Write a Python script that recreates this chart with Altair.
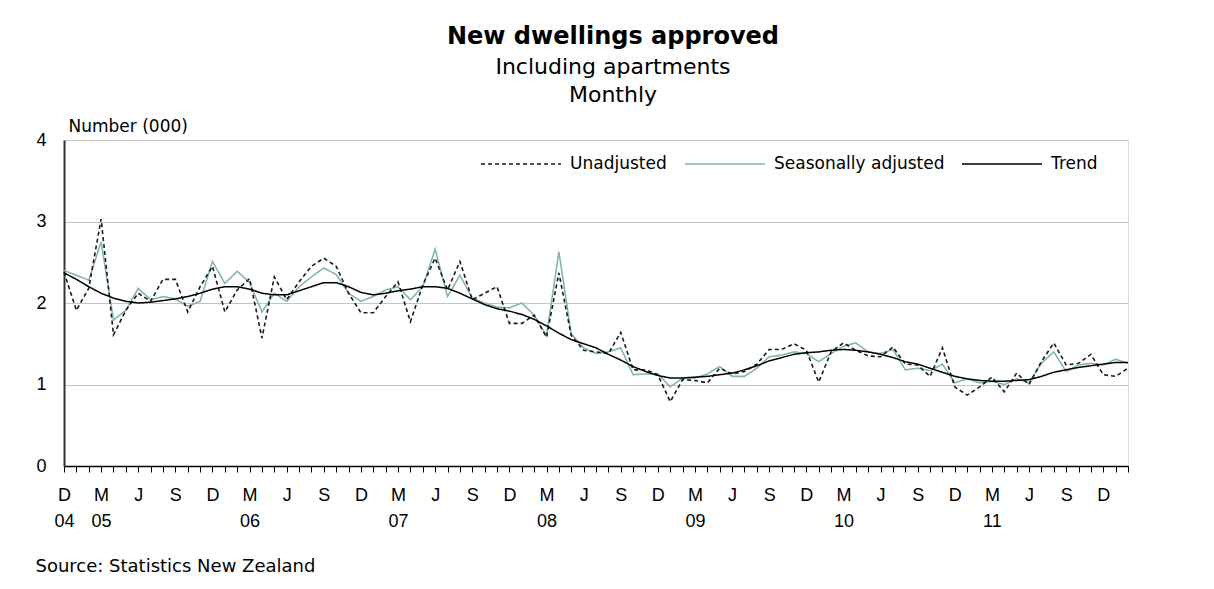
import altair as alt
import pandas as pd

# Monthly, Dec 2004 .. Feb 2012 (87 months), thousands of dwellings
unadjusted = [2.38, 1.91, 2.18, 3.03, 1.61, 1.91, 2.12, 2.02, 2.29, 2.29, 1.89, 2.20,
              2.45, 1.89, 2.16, 2.30, 1.57, 2.32, 2.04, 2.26, 2.45, 2.55, 2.45, 2.12,
              1.88, 1.88, 2.08, 2.26, 1.77, 2.22, 2.55, 2.16, 2.51, 2.04, 2.12, 2.20,
              1.75, 1.75, 1.85, 1.58, 2.37, 1.60, 1.42, 1.40, 1.38, 1.64, 1.18, 1.18,
              1.12, 0.79, 1.06, 1.05, 1.02, 1.20, 1.13, 1.16, 1.25, 1.43, 1.43, 1.50,
              1.42, 1.03, 1.40, 1.51, 1.42, 1.35, 1.34, 1.46, 1.25, 1.24, 1.10, 1.45,
              0.97, 0.87, 0.97, 1.09, 0.91, 1.14, 1.00, 1.28, 1.51, 1.24, 1.26, 1.37,
              1.12, 1.10, 1.20]
seasonally_adjusted = [2.40, 2.34, 2.28, 2.75, 1.79, 1.91, 2.18, 2.04, 2.08, 2.05, 1.96, 2.02,
                       2.51, 2.24, 2.39, 2.25, 1.89, 2.12, 2.02, 2.20, 2.32, 2.43, 2.35, 2.12,
                       2.02, 2.08, 2.16, 2.20, 2.04, 2.20, 2.66, 2.08, 2.34, 2.06, 2.00, 1.95,
                       1.94, 2.00, 1.85, 1.60, 2.63, 1.62, 1.45, 1.38, 1.40, 1.45, 1.12, 1.13,
                       1.13, 0.97, 1.08, 1.08, 1.13, 1.22, 1.10, 1.10, 1.20, 1.34, 1.36, 1.40,
                       1.38, 1.28, 1.38, 1.47, 1.51, 1.40, 1.38, 1.43, 1.18, 1.20, 1.17, 1.25,
                       1.02, 1.07, 1.02, 1.04, 1.00, 1.07, 1.02, 1.26, 1.40, 1.16, 1.24, 1.26,
                       1.24, 1.31, 1.26]
trend = [2.37, 2.29, 2.20, 2.12, 2.06, 2.02, 2.00, 2.01, 2.03, 2.05, 2.08, 2.12,
         2.17, 2.20, 2.20, 2.17, 2.12, 2.10, 2.10, 2.15, 2.20, 2.25, 2.25, 2.20,
         2.13, 2.10, 2.12, 2.15, 2.17, 2.20, 2.20, 2.18, 2.12, 2.05, 1.98, 1.93,
         1.90, 1.86, 1.80, 1.72, 1.63, 1.55, 1.50, 1.45, 1.37, 1.30, 1.22, 1.16,
         1.11, 1.08, 1.08, 1.09, 1.10, 1.12, 1.14, 1.18, 1.23, 1.29, 1.33, 1.37,
         1.39, 1.40, 1.42, 1.43, 1.42, 1.40, 1.37, 1.33, 1.28, 1.25, 1.20, 1.15,
         1.10, 1.07, 1.05, 1.04, 1.04, 1.05, 1.06, 1.10, 1.15, 1.18, 1.21, 1.23,
         1.25, 1.27, 1.27]

month_letters = ["D", "J", "F", "M", "A", "M", "J", "J", "A", "S", "O", "N"]
year_labels = {0: "04", 3: "05", 15: "06", 27: "07", 39: "08", 51: "09", 63: "10", 75: "11"}
series_names = ["Unadjusted", "Seasonally adjusted", "Trend"]

n = len(trend)
rows = []
for name, vals in [("Seasonally adjusted", seasonally_adjusted),
                   ("Unadjusted", unadjusted), ("Trend", trend)]:
    for i, v in enumerate(vals):
        rows.append({"m": i, "value": v, "series": name})
df = pd.DataFrame(rows)

items = []
for i in range(n):
    if i % 3 == 0:
        letter = month_letters[i % 12]
        if i in year_labels:
            items.append(f"['{letter}','{year_labels[i]}']")
        else:
            items.append(f"'{letter}'")
    else:
        items.append("''")
label_expr = "[" + ",".join(items) + "][datum.value]"

FONT = "DejaVu Sans"

legend = alt.Legend(orient="none", legendX=416, legendY=-17,
                    direction="horizontal", title=None,
                    symbolType="stroke", symbolSize=6400,
                    symbolStrokeWidth=1.5, labelFont=FONT,
                    labelFontSize=17, labelColor="#000", labelLimit=400,
                    labelOffset=8, columnPadding=14)

chart = alt.Chart(df).mark_line().encode(
    x=alt.X("m:Q",
            scale=alt.Scale(domain=[0, n - 1], nice=False, zero=False),
            axis=alt.Axis(values=list(range(n)), labelExpr=label_expr, labelOverlap=False,
                          labelBound=False, labelFlush=False, grid=False,
                          tickSize=6, tickColor="#000", domainColor="#000", domainWidth=1.5,
                          labelFont="Liberation Sans", labelFontSize=18, labelColor="#000",
                          labelBaseline="top", labelPadding=14, labelLineHeight=26,
                          title="Source: Statistics New Zealand", titleFont=FONT,
                          titleFontSize=18, titleFontWeight="normal", titleColor="#000",
                          titleAlign="left", titleX=-29, titleY=105,
                          titleBaseline="alphabetic")),
    y=alt.Y("value:Q",
            scale=alt.Scale(domain=[0, 4], nice=False),
            axis=alt.Axis(values=[0, 1, 2, 3, 4], format="d", ticks=False, grid=True,
                          gridColor="#c4c4c4", gridWidth=1, domainColor="#333",
                          domainWidth=2, labelFont="Liberation Sans", labelFontSize=18,
                          labelColor="#000", labelPadding=18,
                          title="Number (000)", titleFont=FONT, titleFontSize=17,
                          titleFontWeight="normal", titleColor="#000", titleAngle=0,
                          titleAlign="left", titleX=4, titleY=-9,
                          titleBaseline="alphabetic")),
    color=alt.Color("series:N",
                    scale=alt.Scale(domain=series_names,
                                    range=["#1a1a1a", "#80b4b2", "#000000"]),
                    legend=legend),
    strokeDash=alt.StrokeDash("series:N",
                              scale=alt.Scale(domain=series_names,
                                              range=[[4, 3], [1, 0], [1, 0]]),
                              legend=legend),
    strokeWidth=alt.StrokeWidth("series:N",
                                scale=alt.Scale(domain=series_names, range=[1.6, 1.5, 1.8]),
                                legend=None),
).properties(
    width=1064,
    height=326,
    title=alt.TitleParams(
        text="New dwellings approved",
        subtitle=["Including apartments", "Monthly"],
        anchor="middle", frame="group", dx=17, offset=11,
        font=FONT, fontSize=24, fontWeight="bold", color="#000",
        subtitleFont=FONT, subtitleFontSize=22, subtitleColor="#000",
        subtitleLineHeight=28, subtitlePadding=8,
    ),
    autosize=alt.AutoSizeParams(type="none"),
    padding={"left": 64, "top": 140, "right": 86, "bottom": 123},
).configure_view(stroke=None).configure(background="white")

chart.save("out.html", embed_options={"renderer": "svg", "actions": False})
